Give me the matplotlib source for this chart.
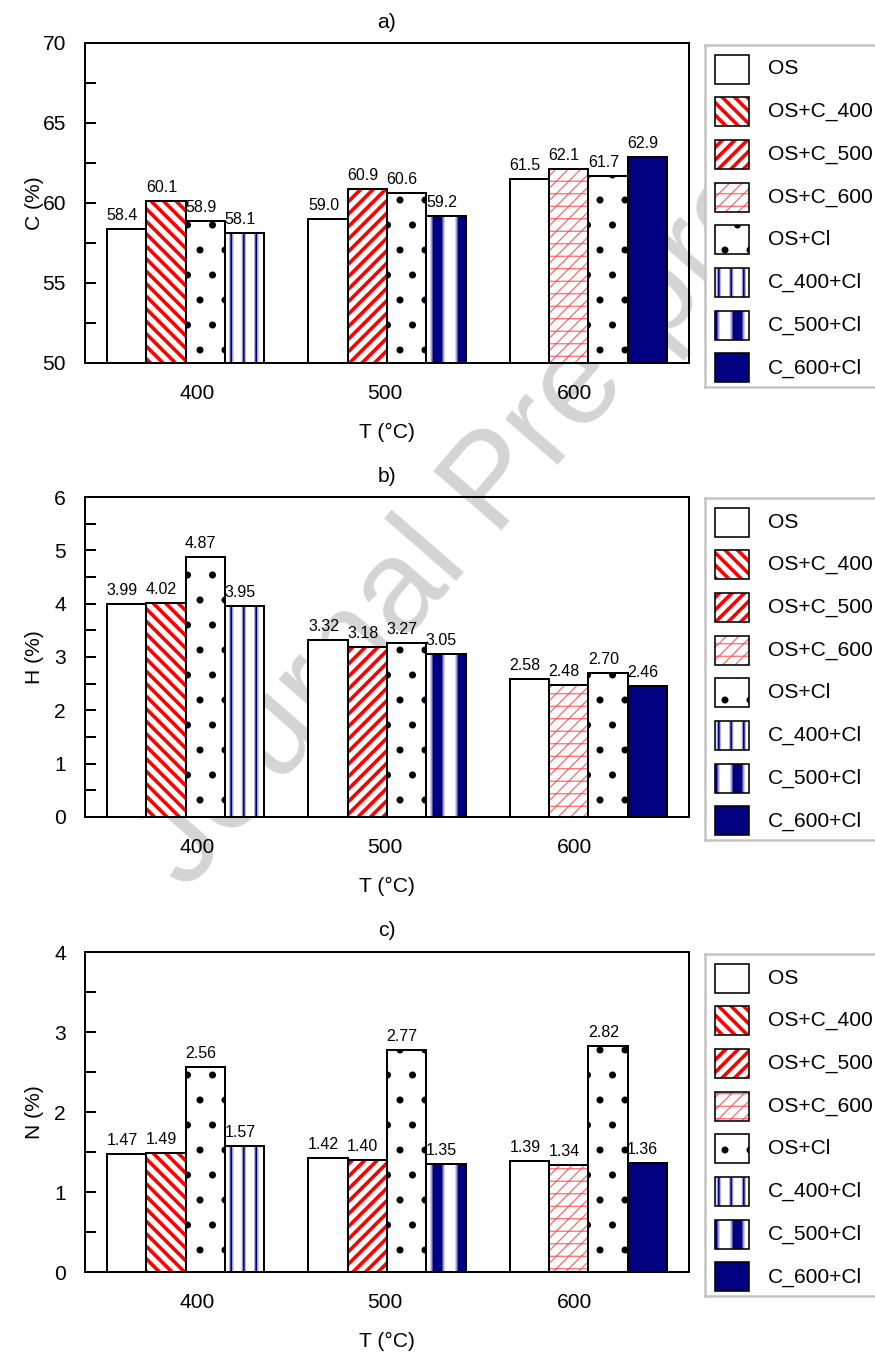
import matplotlib
matplotlib.use('Agg')
import matplotlib.pyplot as plt
from matplotlib.ticker import MultipleLocator, FixedLocator

DPI = 150
W, H = 875, 1353


def pt(px):
    return px * 72.0 / DPI


plt.rcParams['font.family'] = ['Liberation Sans', 'DejaVu Sans']

# ---------------- data ----------------
temperatures = ['400', '500', '600']
series_names = ['OS', 'OS+C_400', 'OS+C_500', 'OS+C_600', 'OS+Cl',
                'C_400+Cl', 'C_500+Cl', 'C_600+Cl']

# per temperature group: OS, OS+C_T, OS+Cl, C_T+Cl
C_OS = [58.4, 59.0, 61.5]
C_OSC = [60.1, 60.9, 62.1]
C_OSCl = [58.9, 60.6, 61.7]
C_CCl = [58.1, 59.2, 62.9]

H_OS = [3.99, 3.32, 2.58]
H_OSC = [4.02, 3.18, 2.48]
H_OSCl = [4.87, 3.27, 2.70]
H_CCl = [3.95, 3.05, 2.46]

N_OS = [1.47, 1.42, 1.39]
N_OSC = [1.49, 1.40, 1.34]
N_OSCl = [2.56, 2.77, 2.82]
N_CCl = [1.57, 1.35, 1.36]

# ---------------- styles ----------------
RED = '#ff0000'
NAVY = '#000080'
STYLES = {
    'OS': dict(face='white', layers=[]),
    'OS+C_400': dict(face='white', layers=[('\\\\\\\\', RED, pt(3.6))]),
    'OS+C_500': dict(face='white', layers=[('////', RED, pt(3.6))]),
    'OS+C_600': dict(face='white', layers=[('////--', '#ff6464', pt(1.2))]),
    'OS+Cl': dict(face='white', layers=[('.', 'black', pt(2.0))]),
    'C_400+Cl': dict(face='white', layers=[('||', '#b4b4e6', pt(4.5)),
                                           ('||', NAVY, pt(1.8))]),
    'C_500+Cl': dict(face='white', layers=[('|', '#a0a0d8', pt(14)),
                                           ('|', NAVY, pt(10))]),
    'C_600+Cl': dict(face=NAVY, layers=[]),
}
EDGE = pt(2)


def set_hlw(p, lw):
    if hasattr(p, 'set_hatch_linewidth'):
        p.set_hatch_linewidth(lw)


def styled_bar(ax, x, h, w, style, bottom=0.0, edge=EDGE):
    st = STYLES[style]
    ax.bar(x, h, w, bottom=bottom, color=st['face'], linewidth=0, zorder=2)
    for hatch, col, lw in st['layers']:
        bc = ax.bar(x, h, w, bottom=bottom, color='none', edgecolor=col,
                    hatch=hatch, linewidth=0, zorder=2)
        for p in bc:
            set_hlw(p, lw)
    ax.bar(x, h, w, bottom=bottom, color='none', edgecolor='black',
           linewidth=edge, zorder=3)


fig = plt.figure(figsize=(W / DPI, H / DPI), dpi=DPI, facecolor='white')

AX_L, AX_R = 85, 689
PANEL_TOPS = [43, 497, 952]
AX_H = 320
BW = 0.195
TICKPOS = [0.055, 0.99, 1.93]


def panel(top, groups, ylim, major, minor, ylabel, tag, fmt):
    ax = fig.add_axes([AX_L / W, 1 - (top + AX_H) / H, (AX_R - AX_L) / W, AX_H / H])
    ax.patch.set_visible(False)
    for i, T in enumerate(temperatures):
        names = ['OS', 'OS+C_' + T, 'OS+Cl', 'C_' + T + '+Cl']
        for j, (name, arr) in enumerate(zip(names, groups)):
            xc = i + (j - 1.5) * BW
            styled_bar(ax, xc, arr[i], BW, name)
            ax.annotate(fmt.format(arr[i]), xy=(xc, arr[i]),
                        xytext=(pt(-4.5), pt(9)), textcoords='offset points',
                        ha='center', va='baseline', fontsize=pt(16), zorder=5)
    ax.set_xlim(-0.5, 2.5)
    ax.set_ylim(*ylim)
    ax.yaxis.set_major_locator(MultipleLocator(major))
    ax.yaxis.set_minor_locator(MultipleLocator(minor))
    ax.tick_params(axis='y', which='both', direction='in', length=pt(11),
                   width=pt(2), left=True, right=False, labelsize=pt(21),
                   pad=pt(19))
    ax.xaxis.set_major_locator(FixedLocator(TICKPOS))
    ax.set_xticklabels(temperatures)
    ax.tick_params(axis='x', which='both', length=0, labelsize=pt(21),
                   pad=pt(21))
    for s in ax.spines.values():
        s.set_linewidth(pt(2))
        s.set_zorder(4)
    ax.set_ylabel(ylabel, fontsize=pt(21), va='center', ha='center')
    ax.yaxis.set_label_coords((34 - AX_L) / (AX_R - AX_L), 0.5)
    ax.set_xlabel('T (°C)', fontsize=pt(21), va='center', ha='center')
    ax.xaxis.set_label_coords(0.5, -69 / AX_H)
    ax.text(0.5, 1 + 21 / AX_H, tag, transform=ax.transAxes, ha='center',
            va='center', fontsize=pt(21))
    return ax


def legend_box(top):
    LW_, LH_ = 180, 342
    lax = fig.add_axes([705 / W, 1 - (top + LH_) / H, LW_ / W, LH_ / H])
    lax.set_facecolor('white')
    lax.set_xlim(0, LW_)
    lax.set_ylim(LH_, 0)
    lax.set_xticks([])
    lax.set_yticks([])
    for s in lax.spines.values():
        s.set_color('#c4c4c4')
        s.set_linewidth(pt(2.5))
    for k, name in enumerate(series_names):
        c = 24 + k * 42.7
        styled_bar(lax, 27, 29, 34, name, bottom=c - 14.5, edge=pt(1.6))
        lax.text(63, c, name, va='center', ha='left', fontsize=pt(21))


panel(PANEL_TOPS[0], [C_OS, C_OSC, C_OSCl, C_CCl], (50, 70), 5, 2.5,
      'C (%)', 'a)', '{:.1f}')
panel(PANEL_TOPS[1], [H_OS, H_OSC, H_OSCl, H_CCl], (0, 6), 1, 0.5,
      'H (%)', 'b)', '{:.2f}')
panel(PANEL_TOPS[2], [N_OS, N_OSC, N_OSCl, N_CCl], (0, 4), 1, 0.5,
      'N (%)', 'c)', '{:.2f}')
legend_box(45)
legend_box(498)
legend_box(954)

fig.text(495 / W, 1 - 485 / H, 'Journal Pre-proof', rotation=49,
         rotation_mode='anchor', ha='center', va='center',
         fontsize=pt(132), color='#d4d4d4', zorder=-10)

fig.savefig('out.png', dpi=DPI, facecolor='white')
